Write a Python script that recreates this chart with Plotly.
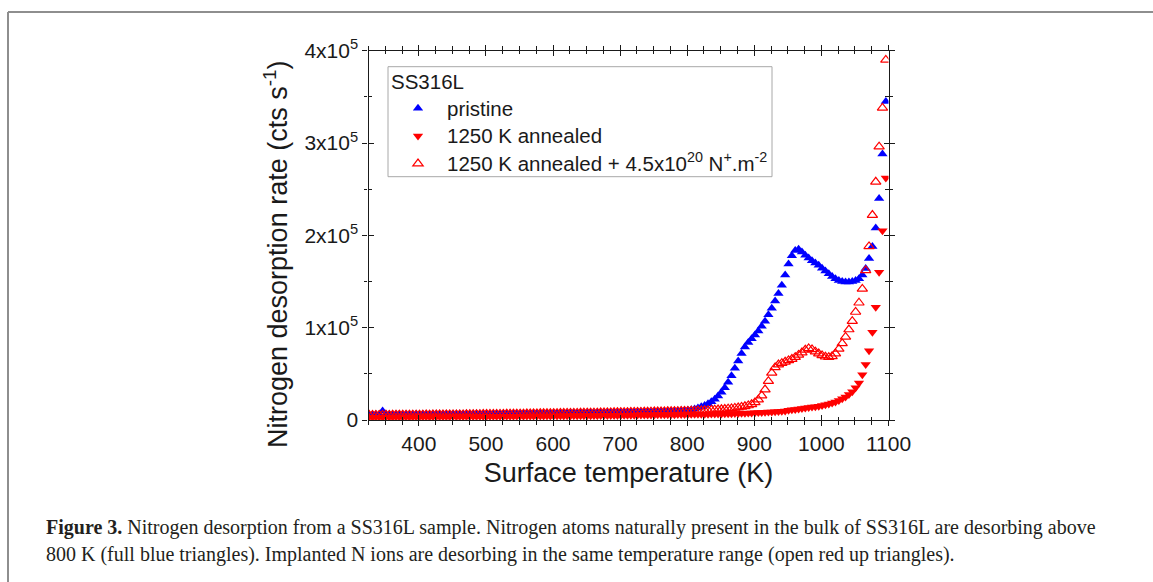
import plotly.graph_objects as go

# Surface temperature grid (K), one reading every 5 K
temperature = list(range(326, 1097, 5))

# Desorption rates in units of 10^3 cts/s
pristine_k = [
    5.6, 5.8, 5.9, 6.0, 9.8, 6.1, 5.9, 5.8, 5.9, 6.0,
    5.9, 6.0, 6.0, 5.9, 6.1, 6.0, 6.1, 6.0, 6.2, 6.1,
    6.2, 6.1, 6.2, 6.3, 6.2, 6.3, 6.2, 6.4, 6.3, 6.4,
    6.4, 6.5, 6.4, 6.5, 6.6, 6.5, 6.6, 6.6, 6.7, 6.6,
    6.7, 6.8, 6.7, 6.8, 6.9, 6.8, 6.9, 7.0, 6.9, 7.0,
    7.1, 7.0, 7.1, 7.2, 7.1, 7.2, 7.3, 7.2, 7.3, 7.4,
    7.4, 7.5, 7.4, 7.5, 7.6, 7.6, 7.7, 7.7, 7.8, 7.8,
    7.9, 7.9, 8.0, 8.0, 8.1, 8.2, 8.2, 8.3, 8.4, 8.4,
    8.5, 8.6, 8.7, 8.7, 8.8, 8.9, 9.0, 9.1, 9.2, 9.3,
    9.5, 9.6, 9.8, 10.0, 10.3,
    10.6, 11.2, 12.0, 13.0, 14.3, 15.8, 17.5, 19.8, 22.5, 26.0,
    30, 35, 41, 48, 56, 64, 72, 79, 84, 88,
    92, 96.5, 101.5, 107, 114, 121, 129, 137, 146, 157,
    169, 178, 183.5, 185, 182, 178.5, 175.5, 172.5, 170, 167.5,
    164.5, 161.5, 158.5, 155.5, 153, 151, 150, 149.5, 149.5, 150,
    151, 153, 157, 164, 175, 188, 208, 240, 288, 345,
]

annealed_k = [
    3.0, 3.1, 3.0, 3.1, 3.1, 3.2, 3.1, 3.2, 3.2, 3.3,
    3.2, 3.3, 3.3, 3.4, 3.3, 3.4, 3.4, 3.5, 3.4, 3.5,
    3.5, 3.6, 3.5, 3.6, 3.6, 3.7, 3.6, 3.7, 3.7, 3.8,
    3.7, 3.8, 3.8, 3.9, 3.8, 3.9, 3.9, 4.0, 3.9, 4.0,
    4.0, 4.1, 4.0, 4.1, 4.1, 4.2, 4.1, 4.2, 4.2, 4.3,
    4.2, 4.3, 4.3, 4.4, 4.3, 4.4, 4.4, 4.5, 4.4, 4.5,
    4.5, 4.6, 4.5, 4.6, 4.6, 4.7, 4.6, 4.7, 4.7, 4.8,
    4.8, 4.8, 4.9, 4.9, 5.0, 5.0, 5.1, 5.1, 5.2, 5.2,
    5.3, 5.3, 5.4, 5.4, 5.5, 5.5, 5.6, 5.6, 5.7, 5.7,
    5.8, 5.8, 5.9, 5.9, 6.0,
    6.0, 6.1, 6.1, 6.2, 6.2, 6.3, 6.3, 6.4, 6.5, 6.5,
    6.6, 6.7, 6.8, 6.9, 7.0, 7.1, 7.2, 7.4, 7.5, 7.7,
    7.8, 8.0, 8.2, 8.4, 8.6, 8.8, 9.0, 9.3, 9.5, 9.8,
    10.6, 11.0, 11.5, 12.0, 12.5, 13.0, 13.5, 14.0, 14.4, 14.8,
    15.6, 16.5, 17.4, 18.4, 19.5, 21.0, 23.0, 25.0, 27.5, 30.5,
    35, 40, 49, 60, 75, 95, 122, 160, 205, 262,
]

implanted_k = [
    5.4, 5.5, 5.4, 5.5, 5.5, 5.6, 5.5, 5.6, 5.6, 5.7,
    5.6, 5.7, 5.7, 5.8, 5.7, 5.8, 5.8, 5.9, 5.8, 5.9,
    5.9, 6.0, 5.9, 6.0, 6.0, 6.1, 6.0, 6.1, 6.1, 6.2,
    6.2, 6.2, 6.3, 6.3, 6.4, 6.4, 6.4, 6.5, 6.5, 6.6,
    6.6, 6.7, 6.7, 6.8, 6.8, 6.9, 6.9, 7.0, 7.0, 7.1,
    7.1, 7.2, 7.2, 7.3, 7.3, 7.4, 7.4, 7.5, 7.5, 7.6,
    7.6, 7.7, 7.7, 7.8, 7.8, 7.9, 7.9, 8.0, 8.0, 8.1,
    8.1, 8.2, 8.2, 8.3, 8.3, 8.4, 8.5, 8.5, 8.6, 8.7,
    8.7, 8.8, 8.9, 8.9, 9.0, 9.1, 9.1, 9.2, 9.3, 9.4,
    9.4, 9.5, 9.6, 9.7, 9.8,
    9.9, 10.0, 10.1, 10.2, 10.4, 10.5, 10.7, 10.9, 11.1, 11.3,
    11.6, 11.9, 12.2, 12.6, 13.0, 13.5, 14.1, 14.8, 15.7, 17.0,
    19.0, 22.0, 26.5, 33, 42, 51, 57, 60, 61.5, 63,
    64.5, 66, 68, 70.5, 73, 76, 77.5, 76.5, 74, 72,
    70, 68.5, 68, 69, 72, 77, 83, 90, 98, 107,
    117, 127, 142, 162, 188, 222, 258, 296, 338, 390,
]

series_names = [
    "pristine",
    "1250 K annealed",
    "1250 K annealed + 4.5x10<sup>20</sup> N<sup>+</sup>.m<sup>-2</sup>",
]

x_ticks = [400, 500, 600, 700, 800, 900, 1000, 1100]
y_ticks = [0, 1e5, 2e5, 3e5, 4e5]
y_tick_text = ["0", "1x10<sup>5</sup>", "2x10<sup>5</sup>",
               "3x10<sup>5</sup>", "4x10<sup>5</sup>"]

x_title = "Surface temperature (K)"
y_title = "Nitrogen desorption rate (cts s<sup>-1</sup>)"

caption_line1 = ("<b>Figure 3.</b> Nitrogen desorption from a SS316L sample. Nitrogen atoms "
                 "naturally present in the bulk of SS316L are desorbing above")
caption_line2 = ("800 K (full blue triangles). Implanted N ions are desorbing in the same "
                 "temperature range (open red up triangles).")

W, H = 1153, 582
SANS = "Liberation Sans, Arial, sans-serif"
SERIF = "Liberation Serif, Times New Roman, serif"
INK = "#1a1a1a"

x_range = [325, 1100]
y_range = [0, 4e5]
x_dom = [368.5 / W, 888.5 / W]
y_dom = [1 - 420.0 / H, 1 - 50.7 / H]


def scale(vals):
    return [v * 1e3 for v in vals]


def legend_label(text):
    # entries are set a little wider than the row pitch of the legend font
    return f'<span style="font-size:20.5px">{text}</span>'


fig = go.Figure()

fig.add_trace(go.Scatter(
    x=temperature, y=scale(pristine_k), mode="markers",
    name=legend_label(series_names[0]),
    marker=dict(symbol="triangle-up", size=9, color="#0000ff", line=dict(width=0)),
))
fig.add_trace(go.Scatter(
    x=temperature, y=scale(annealed_k), mode="markers",
    name=legend_label(series_names[1]),
    marker=dict(symbol="triangle-down", size=9, color="#ff0000", line=dict(width=0)),
))
fig.add_trace(go.Scatter(
    x=temperature, y=scale(implanted_k), mode="markers",
    name=legend_label(series_names[2]),
    marker=dict(symbol="triangle-up-open", size=9, color="#ff0000",
                line=dict(width=1.2, color="#ff0000")),
))
# empty trace that binds the overlay axes carrying the inward tick halves
fig.add_trace(go.Scatter(x=[], y=[], xaxis="x2", yaxis="y2", showlegend=False,
                         hoverinfo="skip"))

axis_common = dict(showgrid=False, zeroline=False, automargin=False)

fig.update_layout(
    width=W, height=H,
    margin=dict(l=0, r=0, t=0, b=0, pad=0),
    paper_bgcolor="white", plot_bgcolor="white",
    font=dict(family=SANS, color=INK),
    xaxis=dict(
        **axis_common, domain=x_dom, range=x_range, anchor="y",
        showline=True, linecolor=INK, linewidth=1.3, mirror="ticks",
        ticks="outside", ticklen=5, tickwidth=1.3, tickcolor=INK,
        tickvals=x_ticks, tickfont=dict(size=21, color=INK),
        minor=dict(dtick=25, tick0=0, ticks="outside", ticklen=3.5,
                   tickwidth=1.1, tickcolor=INK),
        title=dict(text=x_title, font=dict(size=27, color=INK), standoff=8),
    ),
    yaxis=dict(
        **axis_common, domain=y_dom, range=y_range, anchor="x",
        showline=True, linecolor=INK, linewidth=1.3, mirror="ticks",
        ticks="outside", ticklen=5, tickwidth=1.3, tickcolor=INK,
        tickvals=y_ticks, ticktext=y_tick_text, tickfont=dict(size=21, color=INK),
        minor=dict(dtick=5e4, tick0=0, ticks="outside", ticklen=3.5,
                   tickwidth=1.1, tickcolor=INK),
    ),
    xaxis2=dict(
        **axis_common, domain=x_dom, range=x_range, anchor="y2", overlaying="x",
        showline=False, mirror="ticks", showticklabels=False,
        ticks="inside", ticklen=5, tickwidth=1.3, tickcolor=INK, tickvals=x_ticks,
        minor=dict(dtick=25, tick0=0, ticks="inside", ticklen=3.5,
                   tickwidth=1.1, tickcolor=INK),
    ),
    yaxis2=dict(
        **axis_common, domain=y_dom, range=y_range, anchor="x2", overlaying="y",
        showline=False, mirror="ticks", showticklabels=False,
        ticks="inside", ticklen=5, tickwidth=1.3, tickcolor=INK, tickvals=y_ticks,
        minor=dict(dtick=5e4, tick0=0, ticks="inside", ticklen=3.5,
                   tickwidth=1.1, tickcolor=INK),
    ),
    legend=dict(
        x=389 / W, y=1 - 62.7 / H, xanchor="left", yanchor="top",
        bgcolor="rgba(0,0,0,0)", borderwidth=0,
        font=dict(size=19, color=INK),
        title=dict(text="SS316L", font=dict(size=20.5, color=INK)),
        itemsizing="trace", itemwidth=48,
    ),
    showlegend=True,
)

# y-axis title, set a little below the middle of the axis
fig.add_annotation(
    text=y_title, xref="paper", yref="paper", x=276 / W, y=1 - 255 / H,
    xanchor="center", yanchor="middle", textangle=-90, showarrow=False,
    font=dict(family=SANS, size=27, color=INK),
)

# legend frame, drawn as its own box so the entries can sit tighter in it
fig.add_shape(type="rect", xref="paper", yref="paper",
              x0=388 / W, x1=772 / W, y0=1 - 176.7 / H, y1=1 - 66.7 / H,
              line=dict(color="#a8a8a8", width=1), fillcolor="white", layer="below")

# page frame: rule along the top and left edges
frame = dict(type="line", xref="paper", yref="paper",
             line=dict(color="#8e8e8e", width=2))
fig.add_shape(**frame, x0=8 / W, x1=8 / W, y0=0, y1=1 - 12 / H)
fig.add_shape(**frame, x0=8 / W, x1=1, y0=1 - 12 / H, y1=1 - 12 / H)

# figure caption
for line, ypx in ((caption_line1, 527), (caption_line2, 554)):
    fig.add_annotation(
        text=line, xref="paper", yref="paper", x=44 / W, y=1 - ypx / H,
        xanchor="left", yanchor="middle", showarrow=False, align="left",
        font=dict(family=SERIF, size=20, color="#231f20"),
    )

fig.write_html("out.html")
